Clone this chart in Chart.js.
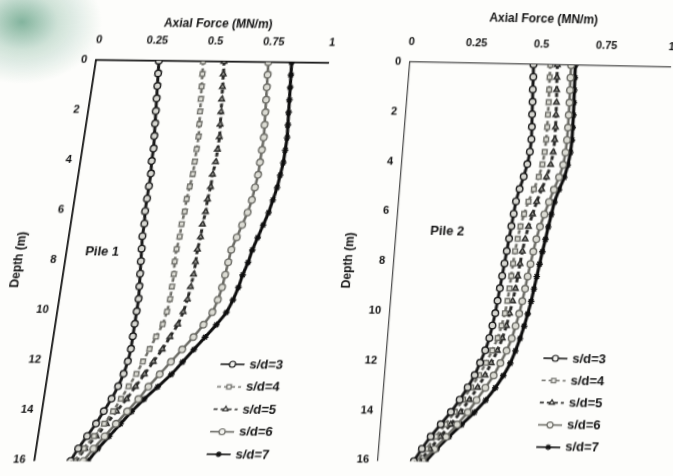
<!DOCTYPE html>
<html>
<head>
<meta charset="utf-8">
<script src="https://cdn.jsdelivr.net/npm/chart.js@4.4.1/dist/chart.umd.min.js"></script>
<style>
    html, body { margin: 0; padding: 0; width: 673px; height: 476px; overflow: hidden; }
    body { background: radial-gradient(ellipse 80px 62px at 22px 22px, rgba(80, 150, 118, 0.7) 0, rgba(120, 175, 150, 0.35) 45%, rgba(255, 255, 255, 0) 100%), #fdfdfb; }
    .wrap { position: absolute; top: 0; }
    /* the original is a photo of a page, both plots lean a little */
    #wrap1 { left: 0; width: 345px; height: 476px; transform-origin: 96px 60px; transform: matrix(1, 0.0125, -0.154, 1, 0, 0); }
    #wrap2 { left: 330px; width: 360px; height: 476px; transform-origin: 80px 62px; transform: matrix(1, 0.02, -0.0805, 1, 0, 0); }
</style>
</head>
<body>
<div class="wrap" id="wrap1"><canvas id="pile1-chart" width="345" height="476"></canvas></div>
<div class="wrap" id="wrap2"><canvas id="pile2-chart" width="360" height="476"></canvas></div>
<script>
// Depth (m) of every reading
const depths = [0, 0.5, 1, 1.5, 2, 2.5, 3, 3.5, 4, 4.5, 5, 5.5, 6, 6.5, 7, 7.5, 8,
    8.5, 9, 9.5, 10, 10.5, 11, 11.5, 12, 12.5, 13, 13.5, 14, 14.5, 15, 15.5, 16];
const seriesLabels = ['s/d=3', 's/d=4', 's/d=5', 's/d=6', 's/d=7'];
const forceTicks = [0, 0.25, 0.5, 0.75, 1];

// Pile 1 axial force (MN/m)
const pile1Sd3 = [0.27, 0.275, 0.28, 0.285, 0.29, 0.295, 0.30, 0.305, 0.305, 0.31, 0.31, 0.31, 0.31, 0.315, 0.315, 0.32, 0.325,
    0.33, 0.335, 0.34, 0.34, 0.34, 0.34, 0.34, 0.335, 0.325, 0.31, 0.29, 0.265, 0.24, 0.21, 0.18, 0.155];
const pile1Sd4 = [0.46, 0.465, 0.47, 0.475, 0.48, 0.485, 0.49, 0.49, 0.49, 0.49, 0.485, 0.48, 0.48, 0.475, 0.475, 0.47, 0.47,
    0.475, 0.475, 0.475, 0.47, 0.46, 0.44, 0.42, 0.40, 0.38, 0.355, 0.33, 0.305, 0.275, 0.24, 0.205, 0.17];
const pile1Sd5 = [0.55, 0.555, 0.56, 0.565, 0.57, 0.575, 0.58, 0.58, 0.58, 0.575, 0.575, 0.57, 0.57, 0.565, 0.565, 0.56, 0.56,
    0.56, 0.555, 0.55, 0.54, 0.525, 0.50, 0.475, 0.445, 0.415, 0.385, 0.355, 0.32, 0.285, 0.25, 0.21, 0.18];
const pile1Sd6 = [0.74, 0.745, 0.75, 0.755, 0.76, 0.765, 0.77, 0.77, 0.77, 0.77, 0.765, 0.76, 0.75, 0.735, 0.72, 0.705, 0.70,
    0.695, 0.69, 0.68, 0.665, 0.635, 0.60, 0.56, 0.52, 0.48, 0.44, 0.405, 0.365, 0.325, 0.285, 0.245, 0.21];
const pile1Sd7 = [0.84, 0.845, 0.85, 0.855, 0.86, 0.865, 0.87, 0.87, 0.87, 0.865, 0.86, 0.85, 0.84, 0.825, 0.81, 0.795, 0.785,
    0.77, 0.76, 0.745, 0.725, 0.69, 0.65, 0.61, 0.57, 0.53, 0.48, 0.43, 0.385, 0.345, 0.305, 0.265, 0.23];

// Pile 2 axial force (MN/m)
const pile2Sd3 = [0.475, 0.478, 0.48, 0.483, 0.485, 0.488, 0.49, 0.488, 0.482, 0.472, 0.46, 0.45, 0.445, 0.44, 0.435, 0.43, 0.425,
    0.42, 0.415, 0.41, 0.405, 0.398, 0.39, 0.378, 0.362, 0.345, 0.322, 0.295, 0.265, 0.23, 0.195, 0.165, 0.138];
const pile2Sd4 = [0.54, 0.541, 0.543, 0.545, 0.546, 0.547, 0.547, 0.545, 0.54, 0.53, 0.515, 0.498, 0.485, 0.475, 0.468, 0.462, 0.458,
    0.455, 0.452, 0.448, 0.442, 0.433, 0.422, 0.405, 0.385, 0.362, 0.335, 0.308, 0.28, 0.248, 0.215, 0.182, 0.15];
const pile2Sd5 = [0.567, 0.569, 0.572, 0.575, 0.577, 0.579, 0.58, 0.578, 0.572, 0.56, 0.545, 0.53, 0.518, 0.506, 0.497, 0.49, 0.485,
    0.48, 0.475, 0.468, 0.46, 0.452, 0.44, 0.425, 0.405, 0.385, 0.36, 0.332, 0.302, 0.268, 0.232, 0.196, 0.16];
const pile2Sd6 = [0.62, 0.621, 0.623, 0.625, 0.626, 0.627, 0.627, 0.625, 0.62, 0.608, 0.592, 0.577, 0.563, 0.55, 0.54, 0.532, 0.525,
    0.518, 0.512, 0.505, 0.497, 0.487, 0.476, 0.46, 0.44, 0.418, 0.39, 0.36, 0.33, 0.293, 0.254, 0.213, 0.172];
const pile2Sd7 = [0.636, 0.638, 0.64, 0.642, 0.644, 0.645, 0.646, 0.644, 0.638, 0.628, 0.612, 0.598, 0.59, 0.582, 0.575, 0.567, 0.56,
    0.553, 0.546, 0.539, 0.53, 0.52, 0.508, 0.494, 0.478, 0.455, 0.428, 0.395, 0.355, 0.31, 0.265, 0.222, 0.184];

// marker look per s/d
const seriesStyles = [
    { color: '#181818', fill: '#d8d8d2', pointStyle: 'circle', dash: [], width: 3 },
    { color: '#6e6e68', fill: '#dcdcd4', pointStyle: 'rect', dash: [4, 3], width: 2.6 },
    { color: '#2a2a28', fill: '#9a9a94', pointStyle: 'triangle', dash: [4, 3], width: 3 },
    { color: '#6a6a64', fill: '#dcdcd4', pointStyle: 'circle', dash: [], width: 2.6 },
    { color: '#0e0e0e', fill: '#0e0e0e', pointStyle: 'star', dash: [], width: 3.2 },
];

Chart.defaults.font.family = '"Liberation Sans", Arial, sans-serif';
Chart.defaults.font.weight = 'bold';
Chart.defaults.color = '#111';

// "Pile n" note and the legend inside the plot
const pileNotes = {
    id: 'pileNotes',
    afterDraw(chart, args, opts) {
        const ctx = chart.ctx;
        const { x, y } = chart.scales;
        ctx.save();
        ctx.fillStyle = '#111';
        ctx.textBaseline = 'middle';
        ctx.font = 'bold 13px "Liberation Sans", Arial, sans-serif';
        ctx.fillText(opts.text, x.getPixelForValue(opts.at[0]), y.getPixelForValue(opts.at[1]));

        chart.data.datasets.forEach((ds, i) => {
            const rowY = opts.legendTop + i * opts.legendGap;
            ctx.strokeStyle = ds.borderColor;
            ctx.lineWidth = 1.6;
            ctx.setLineDash(ds.borderDash);
            ctx.beginPath();
            ctx.moveTo(opts.legendX, rowY);
            ctx.lineTo(opts.legendX + 24, rowY);
            ctx.stroke();
            ctx.setLineDash([]);
            ctx.fillStyle = '#f4f4f0';
            ctx.lineWidth = 1.2;
            Chart.helpers.drawPoint(ctx, { pointStyle: ds.pointStyle, radius: 3, borderWidth: 1.2, rotation: 0 }, opts.legendX + 12, rowY);
            ctx.fillStyle = '#111';
            ctx.fillText(ds.label, opts.legendX + 29, rowY);
        });
        ctx.restore();
    }
};

const makePileChart = (canvasId, seriesList, cfg) => {
    const datasets = seriesList.map((values, i) => {
        const st = seriesStyles[i];
        return {
            label: seriesLabels[i],
            data: values.map((v, k) => ({ x: v, y: depths[k] })),
            borderColor: st.color,
            borderWidth: st.width,
            borderDash: st.dash,
            pointStyle: st.pointStyle,
            pointRadius: 3.3,
            pointBorderWidth: 1.4,
            pointBorderColor: st.color,
            pointBackgroundColor: st.fill,
            tension: 0.2,
            fill: false,
        };
    });

    return new Chart(document.getElementById(canvasId), {
        type: 'line',
        data: { datasets },
        options: {
            responsive: false,
            animation: false,
            layout: { padding: cfg.padding },
            plugins: {
                legend: { display: false },
                tooltip: { enabled: false },
                pileNotes: cfg.notes,
            },
            scales: {
                x: {
                    type: 'linear',
                    position: 'top',
                    min: 0,
                    max: 1,
                    afterBuildTicks: s => { s.ticks = forceTicks.map(v => ({ value: v })); },
                    ticks: { padding: 13, font: { size: 11 }, callback: v => String(v) },
                    grid: { drawOnChartArea: false, drawTicks: false },
                    border: { color: cfg.axisColor, width: cfg.axisWidth },
                    title: { display: true, text: 'Axial Force (MN/m)', font: { size: 12 }, padding: { top: cfg.xTitleTop, bottom: 0 } },
                    afterFit: s => { s.height = cfg.xHeight; },
                },
                y: {
                    type: 'linear',
                    reverse: true,
                    min: 0,
                    max: 16,
                    ticks: { stepSize: 2, padding: 9, font: { size: 11 } },
                    grid: { drawOnChartArea: false, drawTicks: false },
                    border: { color: cfg.axisColor, width: cfg.axisWidth },
                    title: { display: true, text: 'Depth (m)', font: { size: 12 }, padding: { top: cfg.yTitleLeft, bottom: 0 } },
                    afterFit: s => { s.width = cfg.yWidth; },
                },
            },
        },
        plugins: [pileNotes],
    });
};

makePileChart('pile1-chart', [pile1Sd3, pile1Sd4, pile1Sd5, pile1Sd6, pile1Sd7], {
    padding: { left: 0, right: 8, top: 0, bottom: 6 },
    xHeight: 60, yWidth: 96, xTitleTop: 15, yTitleLeft: 42,
    axisColor: '#111', axisWidth: 1.8,
    notes: { text: 'Pile 1', at: [0.08, 7.65], legendX: 267, legendTop: 362, legendGap: 22.5 },
});

makePileChart('pile2-chart', [pile2Sd3, pile2Sd4, pile2Sd5, pile2Sd6, pile2Sd7], {
    padding: { left: 0, right: 20, top: 0, bottom: 6 },
    xHeight: 62, yWidth: 80, xTitleTop: 9, yTitleLeft: 27,
    axisColor: '#444', axisWidth: 1.2,
    notes: { text: 'Pile 2', at: [0.13, 6.75], legendX: 237, legendTop: 355, legendGap: 22.2 },
});
</script>
</body>
</html>
